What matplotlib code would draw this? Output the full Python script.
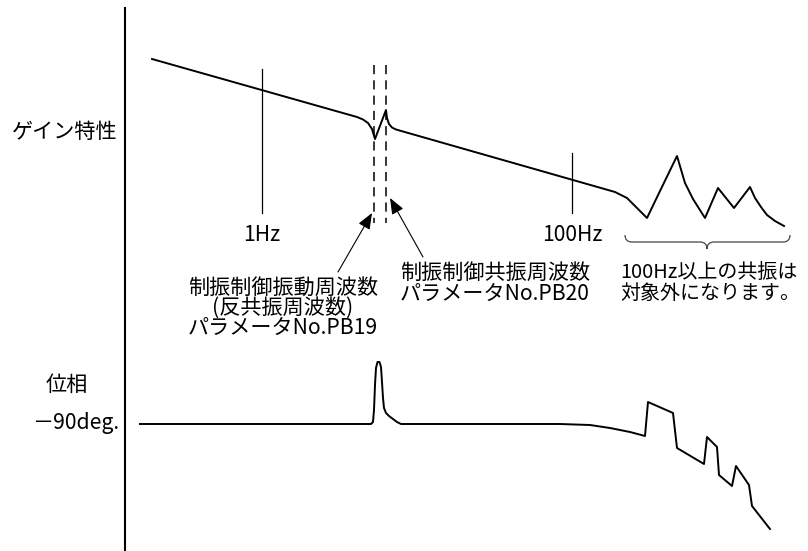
import matplotlib.pyplot as plt
from matplotlib.path import Path
from matplotlib.patches import PathPatch

plt.rcParams['font.family'] = ['Noto Sans CJK JP', 'DejaVu Sans']

# ------------------------------------------------------------------
# schematic data (drawing units = pixels of the 808x551 sheet)
# ------------------------------------------------------------------
axis_x = 125
axis_top, axis_bottom = 8, 551

gain_x = [152, 357, 363, 368, 372, 375, 386, 387, 389, 392, 396,
          615, 627, 637, 647, 660, 677, 685, 693, 705, 718, 734, 750,
          755, 761, 767, 775, 784]
gain_y = [59, 117, 119.5, 123, 129, 139, 110, 118, 124, 127.5, 129.5,
          192, 198, 208, 218, 191, 156, 183, 199, 218, 188, 208, 187,
          198, 207, 215, 221, 226]

phase_x = [140, 371, 373, 374, 375, 376, 377.5, 379.5, 381, 382, 383, 384, 386, 389,
           393, 397, 401,
           560, 590, 610, 630, 645, 648, 673, 677, 704, 707, 717, 719, 732, 736,
           749, 752, 770]
phase_y = [424, 424, 422, 410, 385, 368, 362, 362, 367, 382, 398, 408, 413, 416,
           419, 422, 424,
           424, 425, 428, 432, 436, 402, 413, 448, 464, 437, 447, 475, 486, 466,
           485, 506, 529]

freq_x = [262, 572]
freq_labels = ["1Hz", "100Hz"]
freq_top = [69, 153]
freq_bottom = 213
freq_label_y = 235

notch_x = [374, 386]
notch_top, notch_bottom = 65, 223

brace_x0, brace_x1, brace_tip, brace_y = 625, 790, 707, 242

FS = 15.2

fig = plt.figure(figsize=(8.08, 5.51), dpi=100)
ax = fig.add_axes([0, 0, 1, 1])
ax.set_xlim(0, 808)
ax.set_ylim(551, 0)
ax.axis("off")

# vertical axis
ax.plot([axis_x, axis_x], [axis_top, axis_bottom], color="black", lw=1.5)

# gain / phase curves
ax.plot(gain_x, gain_y, color="black", lw=1.4, solid_joinstyle="round")
ax.plot(phase_x, phase_y, color="black", lw=1.4, solid_joinstyle="round")

# frequency markers
for x, top, lab in zip(freq_x, freq_top, freq_labels):
    ax.plot([x, x], [top, freq_bottom], color="black", lw=0.9)
    ax.text(x, freq_label_y, lab, ha="center", va="center", fontsize=FS)

# notch filter dashed lines
for x in notch_x:
    ax.plot([x, x], [notch_top, notch_bottom], color="black", lw=1.1,
            linestyle=(0, (6, 4)))

# arrows
arrow_kw = dict(arrowstyle="-|>,head_length=0.7,head_width=0.28", color="black",
                lw=0.8, mutation_scale=14, shrinkA=0, shrinkB=0)
ax.annotate("", xy=(372, 213), xytext=(338, 272), arrowprops=arrow_kw)
ax.annotate("", xy=(390, 198), xytext=(423, 257), arrowprops=arrow_kw)

# labels
ax.text(65, 132, "ゲイン特性", ha="center", va="center", fontsize=FS)
ax.text(67, 385, "位相", ha="center", va="center", fontsize=FS)
ax.text(119, 423, "－90deg.", ha="right", va="center", fontsize=FS)

ax.text(283, 288, "制振制御振動周波数", ha="center", va="center", fontsize=FS)
ax.text(283, 308, "(反共振周波数)", ha="center", va="center", fontsize=FS)
ax.text(283, 328, "パラメータNo.PB19", ha="center", va="center", fontsize=FS)

ax.text(495, 273, "制振制御共振周波数", ha="center", va="center", fontsize=FS)
ax.text(495, 294, "パラメータNo.PB20", ha="center", va="center", fontsize=FS)

ax.text(620, 272, "100Hz以上の共振は", ha="left", va="center", fontsize=14.4)
ax.text(620, 293, "対象外になります。", ha="left", va="center", fontsize=14.4)

# curly brace under the high-frequency resonances
r = 7
verts = [(brace_x0, brace_y - r), (brace_x0, brace_y), (brace_x0 + r, brace_y),
         (brace_tip - r, brace_y), (brace_tip, brace_y), (brace_tip, brace_y + r),
         (brace_tip, brace_y), (brace_tip + r, brace_y),
         (brace_x1 - r, brace_y), (brace_x1, brace_y), (brace_x1, brace_y - r)]
codes = [Path.MOVETO, Path.CURVE3, Path.CURVE3,
         Path.LINETO, Path.CURVE3, Path.CURVE3,
         Path.CURVE3, Path.CURVE3,
         Path.LINETO, Path.CURVE3, Path.CURVE3]
ax.add_patch(PathPatch(Path(verts, codes), facecolor="none", edgecolor="#444444", lw=0.9))

fig.savefig("out.png", dpi=100)
